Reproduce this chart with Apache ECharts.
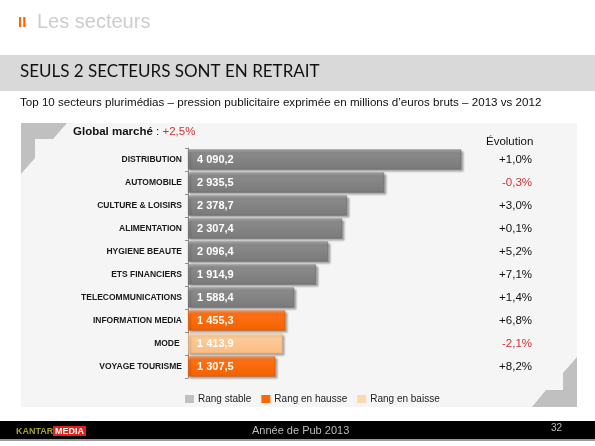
<!DOCTYPE html>
<html>
<head>
<meta charset="utf-8">
<script src="https://cdn.jsdelivr.net/npm/echarts@6/dist/echarts.min.js"></script>
<style>
html,body{margin:0;padding:0;background:#fff;}
#c{width:595px;height:446px;}
</style>
</head>
<body>
<div id="c"></div>
<script>
// ---- data ----
var categories = ['DISTRIBUTION','AUTOMOBILE','CULTURE & LOISIRS','ALIMENTATION','HYGIENE BEAUTE','ETS FINANCIERS','TELECOMMUNICATIONS','INFORMATION MEDIA','MODE ','VOYAGE TOURISME'];
var values = [4090.2, 2935.5, 2378.7, 2307.4, 2096.4, 1914.9, 1588.4, 1455.3, 1413.9, 1307.5];
var evolution = ['+1,0%','-0,3%','+3,0%','+0,1%','+5,2%','+7,1%','+1,4%','+6,8%','-2,1%','+8,2%'];
var ranks = ['stable','stable','stable','stable','stable','stable','stable','hausse','baisse','hausse'];
var rankNames = {stable:'Rang stable', hausse:'Rang en hausse', baisse:'Rang en baisse'};
var globalMarket = '+2,5%';

function fmt(v){
  var s = v.toFixed(1).split('.');
  var i = s[0].replace(/\B(?=(\d{3})+(?!\d))/g, ' ');
  return i + ',' + s[1];
}
function grad(c0,c1,c2){
  return {type:'linear',x:0,y:0,x2:0,y2:1,colorStops:[{offset:0,color:c0},{offset:0.18,color:c1},{offset:1,color:c2}]};
}
var styles = {
  stable:{color:grad('#b4b4b4','#8a8a8a','#7a7a7a'), borderColor:'#6a6a6a', legend:'#c0c0c0'},
  hausse:{color:grad('#ffa566','#ff7014','#f26200'), borderColor:'#d85800', legend:'#ff6600'},
  baisse:{color:grad('#ffe6cc','#fdcb98','#f9bd84'), borderColor:'#e8aa70', legend:'#fdd6b2'}
};
var F = 'Liberation Sans, Arial, sans-serif';

var series = ['stable','hausse','baisse'].map(function(r){
  return {
    name: rankNames[r],
    type:'bar',
    stack:'s',
    yAxisIndex:0,
    barWidth:20,
    data: values.map(function(v,i){ return ranks[i]===r ? v : '-'; }),
    itemStyle:{color:styles[r].color, borderColor:styles[r].borderColor, borderWidth:0.6,
      shadowColor:'rgba(0,0,0,0.35)', shadowOffsetX:2, shadowOffsetY:2, shadowBlur:2},
    label:{show:true, position:'insideLeft', distance:9, color:'#fff', fontFamily:F, fontWeight:'bold', fontSize:11,
      formatter:function(p){ return fmt(p.value); }},
    emphasis:{disabled:true}
  };
});

var chart = echarts.init(document.getElementById('c'), null, {renderer:'canvas'});
chart.setOption({
  animation:false,
  backgroundColor:'#ffffff',
  graphic:[
    // header
    {type:'text', left:18, top:15, style:{text:'II', fill:'#ff6600', font:'bold 15px '+F}},
    {type:'text', left:37, top:12, style:{text:'Les secteurs', fill:'#cdcdcd', font:'20px '+F}},
    {type:'rect', shape:{x:0,y:55,width:595,height:36}, style:{fill:'#d9d9d9'}},
    {type:'text', left:20, top:63, style:{text:'SEULS 2 SECTEURS SONT EN RETRAIT', fill:'#111', font:'17px Lato, sans-serif'}},
    {type:'text', left:20, top:97, style:{text:'Top 10 secteurs plurimédias – pression publicitaire exprimée en millions d\u2019euros bruts – 2013 vs 2012', fill:'#111', font:'11.6px '+F}},
    // panel
    {type:'rect', z:-10, shape:{x:21,y:123,width:556,height:284}, style:{fill:'#f5f5f5'}},
    {type:'polygon', z:-9, shape:{points:[[21,123],[67,123],[53,139],[35,139],[35,158],[21,174]]}, style:{fill:'#c0c0c0'}},
    {type:'polygon', z:-9, shape:{points:[[577,407],[532,407],[546,390],[563,390],[563,373],[577,357]]}, style:{fill:'#c0c0c0'}},
    {type:'text', left:73, top:126, style:{rich:{b:{font:'bold 11.5px '+F, fill:'#111'}, n:{font:'11.5px '+F, fill:'#111'}, r:{font:'11.5px '+F, fill:'#cc3333'}}, text:'{b|Global marché}{n| : }{r|'+globalMarket+'}'}},
    {type:'text', left:486, top:136, style:{text:'Évolution', fill:'#111', font:'11.5px '+F}},
    // footer
    {type:'rect', shape:{x:0,y:421,width:595,height:18}, style:{fill:'#000'}},
    {type:'rect', shape:{x:0,y:439,width:595,height:2}, style:{fill:'#9a9a9a'}},
    {type:'text', left:16, top:427, style:{text:'KANTAR', fill:'#a3a320', font:'bold 9px '+F}},
    {type:'text', left:53, top:426, style:{text:'MEDIA', fill:'#fff', font:'bold 9px '+F, backgroundColor:'#e0201a', padding:[1,2,0,2]}},
    {type:'text', left:252, top:425, style:{text:'Année de Pub 2013', fill:'#bdbdbd', font:'11px '+F}},
    {type:'text', left:551, top:423, style:{text:'32', fill:'#bdbdbd', font:'10px '+F}}
  ],
  legend:{
    left:180, top:389, itemWidth:9, itemHeight:8, itemGap:10,
    icon:'rect',
    textStyle:{fontFamily:F, fontSize:10, color:'#222', padding:[0,0,0,-1]},
    data:['stable','hausse','baisse'].map(function(r){ return {name:rankNames[r], itemStyle:{color:styles[r].legend, borderWidth:0, shadowBlur:0, shadowOffsetX:0, shadowOffsetY:0}}; }),
    selectedMode:false
  },
  grid:{left:188, right:73, top:148, bottom:68},
  xAxis:{type:'value', min:0, max:5000, show:false},
  yAxis:[
    {type:'category', inverse:true, data:categories, position:'left',
      axisLine:{show:true, lineStyle:{color:'#8c8c8c', width:1}},
      axisTick:{show:true, length:3, lineStyle:{color:'#8c8c8c'}},
      axisLabel:{fontFamily:F, fontWeight:'bold', fontSize:8.5, color:'#1a1a1a', margin:6}},
    {type:'category', inverse:true, data:evolution, position:'right',
      axisLine:{show:false}, axisTick:{show:false},
      axisLabel:{align:'right', margin:10, fontFamily:F, fontSize:11.5,
        formatter:function(v){ return v.charAt(0)==='-' ? '{r|'+v+'}' : '{p|'+v+'}'; },
        rich:{r:{color:'#cc3333', fontFamily:F, fontSize:11.5}, p:{color:'#111', fontFamily:F, fontSize:11.5}}}}
  ],
  series:series
});
</script>
</body>
</html>
